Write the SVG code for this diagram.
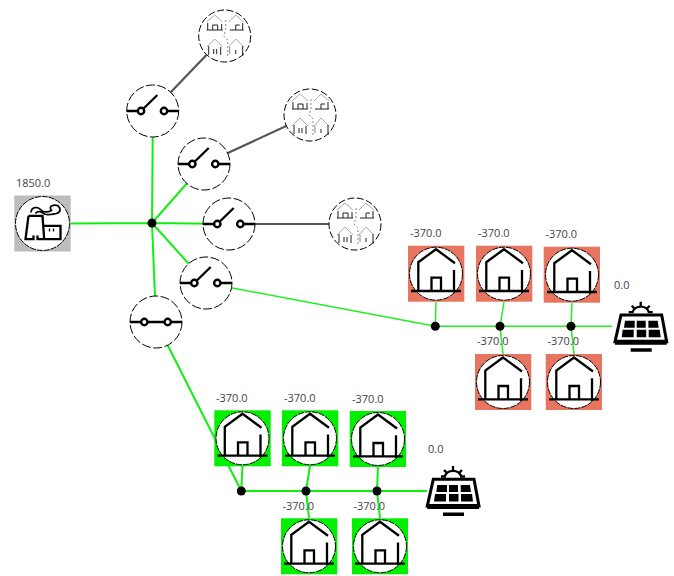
<svg xmlns="http://www.w3.org/2000/svg" width="674" height="576" viewBox="0 0 674 576">
<style>
text{font-family:"Open Sans","Liberation Sans",sans-serif;font-size:11px;fill:#444}
.live{stroke:#20f020;stroke-width:1.5;fill:none}
.main{stroke:#10f010;stroke-width:2;fill:none}
.dead{stroke:#555;stroke-width:2.200;fill:none}
.ring{fill:#fff;stroke:#000;stroke-width:1;stroke-dasharray:9 2.500}
.ink{fill:none;stroke:#000;stroke-width:2.300}
.dot{fill:#000}
.red{fill:#e8755f}.grn{fill:#00f000}.gry{fill:#bdbdbd}
.rf{fill:none;stroke:#aaa;stroke-width:1}
.wl{fill:none;stroke:#222;stroke-width:1}
.gr{fill:none;stroke:#888;stroke-width:1}
</style>
<defs>
<g id="house">
<circle r="26.500" class="ring" style="stroke-dasharray:6 1"/>
<path class="ink" d="M19 -10.500L0 -24.500L-17.700 -11.500V17M18 -3.700V19M-25 17.300H25M-4.500 17V4H5V17"/>
</g>
<g id="open">
<circle r="26" class="ring"/>
<path class="ink" d="M-26 0H-14.500M-11.700 0L4.700 -16M14 0H26"/>
<circle cx="-11.700" r="3.200" fill="#fff" stroke="#000" stroke-width="2.400"/>
<circle cx="11.300" r="3.200" fill="#fff" stroke="#000" stroke-width="2.400"/>
</g>
<g id="closed">
<circle r="26" class="ring"/>
<path class="ink" d="M-26 0H26"/>
<circle cx="-11.700" r="3.200" fill="#fff" stroke="#000" stroke-width="2.400"/>
<circle cx="11.700" r="3.200" fill="#fff" stroke="#000" stroke-width="2.400"/>
</g>
<g id="cluster">
<circle r="26" class="ring" style="stroke-dasharray:7 2.500"/>
<path class="gr" stroke-dasharray="2 2" d="M1 -16V-6L-1 0L3 4V20"/>
<path class="rf" d="M-18 -14L-10 -21L-2 -14M4 -14L11 -21L19 -14M-18 11L-10 3L-2 11M4 11L11 3L19 11"/>
<path class="wl" d="M-17 -13V-6M-3 -12V-6M-18 -6H-2M-12 -6V-11H-7V-6M5 -6H19M11 -6V-11H15M18 -13V-6"/>
<path class="wl" d="M-16 10V19M-4 11V19M-11 13V18M-8 13V18M18 10V20M11 14V18"/>
<path class="gr" d="M5 11V18"/>
</g>
<g id="solar">
<path d="M-19.700 -11.700H21L26 15H-25.700Z" fill="#fff" stroke="#000" stroke-width="3"/>
<path d="M-25.700 13H26V18H-25.700ZM-10 21.500H11V25H-10Z" class="dot"/>
<path d="M-15.700 -6H-6V1H-16.700ZM-4 -6H5V1H-4ZM7.700 -6H17L18 1H7.700ZM-18 3H-7V10.500H-19ZM-4 3H5.500V10.500H-4ZM8 3H19L20 10.500H8Z" class="dot"/>
<path class="ink" d="M-8.500 -14A9 9 0 0 1 8.500 -14M-12 -14.500H-7M7 -14.500H12M-9 -21L-6 -18M9 -21L6 -18M0 -25V-21"/>
</g>
<g id="plant">
<path class="ink" d="M-14 -7.700H0L1.700 15.700M-14 -7.700L-17 15.700H-9V12M-5 12V15.700H18V2.300H1.700"/>
<path class="ink" style="stroke-width:1.300" d="M7 5V8M11 5V8"/>
<path class="ink" style="stroke-width:1.700" d="M-11.500 -11C-11 -17 -5 -17 -2 -14C1 -11 5 -11 9 -13C5 -18 12 -19 15 -18C19 -15 18 -11 14 -10C9 -9 6 -8 2 -9.500C-1 -12 -5 -13 -7 -10"/>
</g>
</defs>
<g id="connectors">
<path class="main" d="M70 223.500L152 223M152 223L152.700 137M152 223L204 164M152 223L229 224M152 223L206 283M152 223L156 322M156 322L241.300 491"/>
<path class="live" d="M206 283L435.300 326.300"/>
<path class="dead" d="M152.700 111L224.700 36M204 164L310 115M229 224L355 224"/>
<path class="live" d="M435.300 326.300H612M436 302L435.300 326.300M504 302L500 326.300M503 354L500 326.300M572 303L571 326.300M574 354L571 326.300"/>
<path class="main" d="M241.300 491H427M242.500 466L241.300 491M310 466L306 491M309 518L306 491M378 467L377 491M380 518L377 491"/>
</g>
<g id="plant-node"><rect x="14.300" y="195.500" width="56.400" height="56" class="gry"/><circle cx="42.500" cy="223.500" r="27" class="ring" style="stroke-dasharray:6 1"/><use href="#plant" x="42.500" y="223.500"/><text x="16" y="187">1850.0</text></g>
<g id="bus-main"><circle cx="152" cy="223" r="4.500" class="dot"/></g>
<g id="switch-1"><use href="#open" x="152.700" y="111"/></g>
<g id="switch-2"><use href="#open" x="204" y="164"/></g>
<g id="switch-3"><use href="#open" x="229" y="224"/></g>
<g id="switch-4"><use href="#open" x="206" y="283"/></g>
<g id="switch-5"><use href="#closed" x="156" y="322"/></g>
<g id="cluster-1"><use href="#cluster" x="224.700" y="36"/></g>
<g id="cluster-2"><use href="#cluster" x="310" y="115"/></g>
<g id="cluster-3"><use href="#cluster" x="355" y="224"/></g>
<g id="red-house-1"><rect x="408" y="245.700" width="56.300" height="56" class="red"/><use href="#house" x="436" y="273.700"/><text x="410" y="237.300">-370.0</text></g>
<g id="red-house-2"><rect x="476" y="245.700" width="56.300" height="56" class="red"/><use href="#house" x="504" y="273.700"/><text x="478" y="237.300">-370.0</text></g>
<g id="red-house-3"><rect x="543.700" y="246.700" width="56.300" height="56" class="red"/><use href="#house" x="572" y="274.700"/><text x="545.500" y="238.300">-370.0</text></g>
<g id="red-house-4"><rect x="475" y="354" width="56.300" height="56" class="red"/><use href="#house" x="503" y="382"/><text x="477" y="345.300">-370.0</text></g>
<g id="red-house-5"><rect x="545.700" y="354" width="56.300" height="56" class="red"/><use href="#house" x="574" y="382"/><text x="547.500" y="345.300">-370.0</text></g>
<g id="red-bus"><circle cx="435.300" cy="326.300" r="4.500" class="dot"/><circle cx="500" cy="326.300" r="4.500" class="dot"/><circle cx="571" cy="326.300" r="4.500" class="dot"/></g>
<g id="red-solar"><use href="#solar" x="640.700" y="326.700"/><text x="614" y="289">0.0</text></g>
<g id="green-house-1"><rect x="214.300" y="410.300" width="56.400" height="56" class="grn"/><use href="#house" x="242.500" y="438.300"/><text x="216" y="401.700">-370.0</text></g>
<g id="green-house-2"><rect x="282" y="410.300" width="56.300" height="56" class="grn"/><use href="#house" x="310" y="438.300"/><text x="284" y="401.700">-370.0</text></g>
<g id="green-house-3"><rect x="349.700" y="411" width="56.300" height="56" class="grn"/><use href="#house" x="378" y="439"/><text x="352" y="402.700">-370.0</text></g>
<g id="green-house-4"><rect x="281" y="518.300" width="56.300" height="56" class="grn"/><use href="#house" x="309" y="546.300"/><text x="282.500" y="510">-370.0</text></g>
<g id="green-house-5"><rect x="352" y="518.300" width="56" height="56" class="grn"/><use href="#house" x="380" y="546.300"/><text x="353.500" y="510">-370.0</text></g>
<g id="green-bus"><circle cx="241.300" cy="491" r="4.500" class="dot"/><circle cx="306" cy="491" r="4.500" class="dot"/><circle cx="377" cy="491" r="4.500" class="dot"/></g>
<g id="green-solar"><use href="#solar" x="453" y="491"/><text x="428" y="453">0.0</text></g>
</svg>
